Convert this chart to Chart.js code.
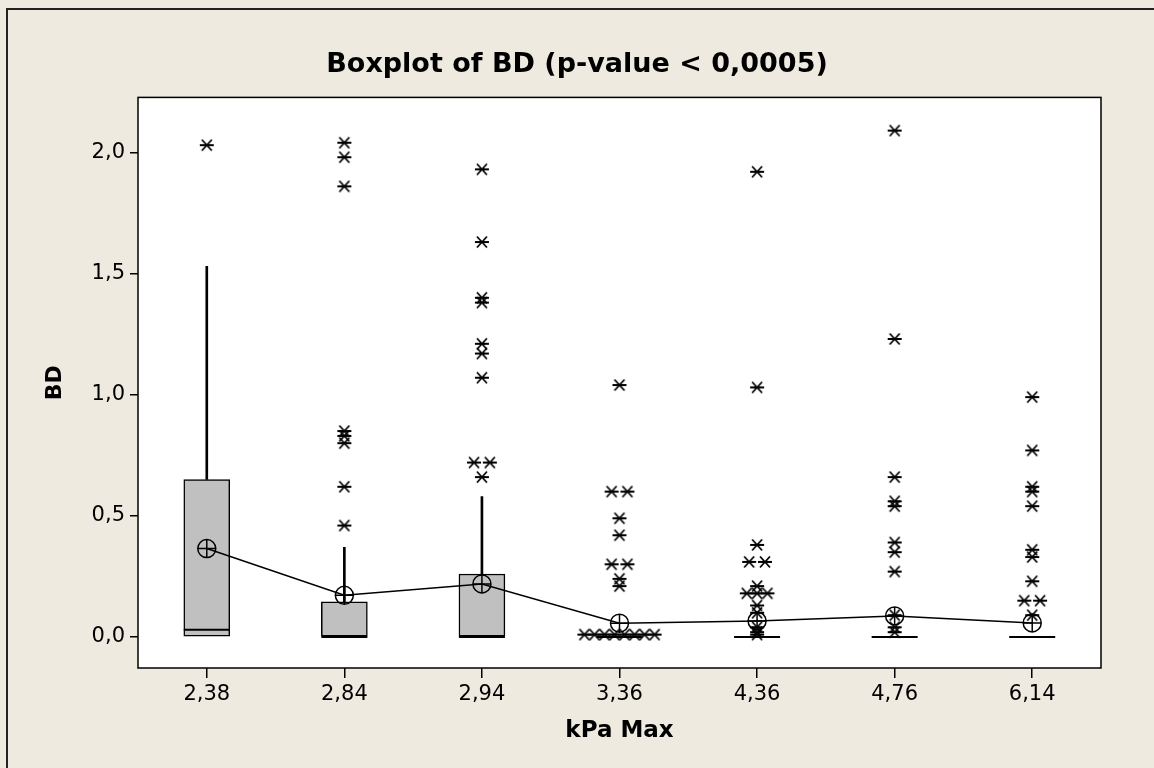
<!DOCTYPE html>
<html>
<head>
<meta charset="utf-8">
<script src="https://cdn.jsdelivr.net/npm/chart.js@4.4.0/dist/chart.umd.min.js"></script>
<style>
  body { margin: 0; background: #EEEAE0; }
  #wrap { width: 1154px; height: 768px; }
</style>
</head>
<body>
<div id="wrap"><canvas id="myChart" width="1154" height="768"></canvas></div>
<script>
// kPa Max groups
var categories = ['2,38', '2,84', '2,94', '3,36', '4,36', '4,76', '6,14'];
var q1 = [0, 0, 0, 0, 0, 0, 0];
var median = [0.03, 0, 0, 0, 0, 0, 0];
var q3 = [0.65, 0.145, 0.26, 0, 0, 0, 0];
var whiskerHigh = [1.53, 0.37, 0.58, 0, 0, 0, 0];
var means = [0.365, 0.172, 0.219, 0.057, 0.066, 0.087, 0.058];
var outliers = [
    [2.03],
    [2.04, 1.98, 1.86, 0.85, 0.83, 0.80, 0.62, 0.46],
    [1.93, 1.63, 1.40, 1.38, 1.21, 1.17, 1.07, 0.72, 0.72, 0.66],
    [1.04, 0.60, 0.60, 0.49, 0.42, 0.30, 0.30, 0.24, 0.21, 0.01, 0.01, 0.01, 0.01, 0.01, 0.01, 0.01, 0.01],
    [1.92, 1.03, 0.38, 0.31, 0.31, 0.21, 0.18, 0.18, 0.18, 0.13, 0.10, 0.04, 0.02, 0.01],
    [2.09, 1.23, 0.66, 0.56, 0.54, 0.39, 0.35, 0.27, 0.09, 0.04, 0.02],
    [0.99, 0.77, 0.62, 0.60, 0.54, 0.36, 0.33, 0.23, 0.15, 0.15, 0.09]
];
var yTicks = [0, 0.5, 1.0, 1.5, 2.0];

// identical values are set side by side, like minitab does
function spread(vals, idx) {
    var counts = {};
    vals.forEach(function (v) { counts[v] = (counts[v] || 0) + 1; });
    var pts = [];
    Object.keys(counts).forEach(function (k) {
        var n = counts[k];
        var gap = n === 2 ? 0.115 : Math.min(0.075, 0.51 / Math.max(n - 1, 1));
        for (var j = 0; j < n; j++) {
            pts.push({x: idx + (j - (n - 1) / 2) * gap, y: parseFloat(k)});
        }
    });
    return pts;
}
var outlierPts = [];
outliers.forEach(function (g, i) { outlierPts = outlierPts.concat(spread(g, i)); });

// asterisk symbol
function makeStar() {
    var c = document.createElement('canvas');
    c.width = 16; c.height = 16;
    var g = c.getContext('2d');
    g.strokeStyle = '#000';
    g.lineWidth = 1.8;
    g.beginPath();
    g.moveTo(1, 8); g.lineTo(15, 8);
    g.moveTo(3, 2.5); g.lineTo(13, 13.5);
    g.moveTo(3, 13.5); g.lineTo(13, 2.5);
    g.stroke();
    return c;
}

var frame = {
    id: 'frame',
    beforeDraw: function (chart) {
        var c = chart.ctx, a = chart.chartArea;
        c.save();
        c.fillStyle = '#EEEAE0';
        c.fillRect(0, 0, chart.width, chart.height);
        c.strokeStyle = '#222';
        c.lineWidth = 2;
        c.beginPath();
        c.moveTo(7, chart.height); c.lineTo(7, 9); c.lineTo(chart.width, 9);
        c.stroke();
        c.fillStyle = '#fff';
        c.fillRect(a.left, a.top, a.right - a.left, a.bottom - a.top);
        c.restore();
    },
    afterDraw: function (chart) {
        var c = chart.ctx, a = chart.chartArea;
        c.save();
        c.strokeStyle = '#000';
        c.lineWidth = 1.5;
        c.strokeRect(a.left, a.top, a.right - a.left, a.bottom - a.top);
        c.restore();
    }
};

var ctx = document.getElementById('myChart');
var boxChart = new Chart(ctx, {
    type: 'bar',
    data: {
        labels: categories,
        datasets: [
            {
                type: 'bar',
                data: q1.map(function (v, i) { return [v, q3[i]]; }),
                backgroundColor: '#C0C0C0',
                borderColor: '#000',
                borderWidth: 1.5,
                borderSkipped: false,
                barThickness: 46,
                grouped: false,
                order: 5
            },
            {
                type: 'bar',
                data: q3.map(function (v, i) { return [v, whiskerHigh[i]]; }),
                backgroundColor: '#000',
                borderWidth: 0,
                barThickness: 2,
                grouped: false,
                order: 4
            },
            {
                type: 'scatter',
                xAxisID: 'x2',
                data: median.map(function (v, i) { return {x: i, y: v}; }),
                pointStyle: 'line',
                pointRadius: 23,
                borderColor: '#000',
                pointBorderWidth: 2,
                order: 3
            },
            {
                type: 'scatter',
                xAxisID: 'x2',
                data: outlierPts,
                pointStyle: makeStar(),
                order: 2
            },
            {
                type: 'line',
                xAxisID: 'x2',
                data: means.map(function (v, i) { return {x: i, y: v}; }),
                borderColor: '#000',
                borderWidth: 1.5,
                pointStyle: 'circle',
                pointRadius: 9,
                pointBackgroundColor: 'rgba(0,0,0,0)',
                pointBorderColor: '#000',
                pointBorderWidth: 1.5,
                order: 1
            },
            {
                type: 'scatter',
                xAxisID: 'x2',
                data: means.map(function (v, i) { return {x: i, y: v}; }),
                pointStyle: 'cross',
                pointRadius: 9,
                borderColor: '#000',
                pointBorderWidth: 1.5,
                order: 0
            }
        ]
    },
    options: {
        responsive: false,
        animation: false,
        devicePixelRatio: 1,
        layout: {padding: 0},
        plugins: {
            legend: {display: false},
            tooltip: {enabled: false},
            title: {
                display: true,
                text: 'Boxplot of BD (p-value < 0,0005)',
                color: '#000',
                font: {family: 'DejaVu Sans', size: 27, weight: 'bold', lineHeight: 1.2},
                padding: {top: 49, bottom: 16}
            }
        },
        scales: {
            x: {
                type: 'category',
                offset: true,
                grid: {offset: false, drawOnChartArea: false, color: '#000', lineWidth: 1.5, tickLength: 10},
                border: {display: false},
                ticks: {color: '#000', padding: 4, font: {family: 'DejaVu Sans', size: 21}},
                title: {
                    display: true, text: 'kPa Max', color: '#000',
                    font: {family: 'DejaVu Sans', size: 23, weight: 'bold', lineHeight: 1.2},
                    padding: {bottom: 23}
                },
                afterFit: function (s) { s.height = 100; }
            },
            x2: {type: 'linear', min: -0.5, max: 6.5, offset: false, display: false},
            y: {
                min: -0.128,
                max: 2.227,
                grid: {drawOnChartArea: false, color: '#000', lineWidth: 1.5, tickLength: 8},
                border: {display: false},
                afterBuildTicks: function (s) { s.ticks = yTicks.map(function (v) { return {value: v}; }); },
                ticks: {
                    color: '#000', padding: 5, font: {family: 'DejaVu Sans', size: 21},
                    callback: function (v) { return v.toFixed(1).replace('.', ','); }
                },
                title: {
                    display: true, text: 'BD', color: '#000',
                    font: {family: 'DejaVu Sans', size: 22, weight: 'bold', lineHeight: 1.2},
                    padding: {top: 42}
                },
                afterFit: function (s) { s.width = 138; }
            },
            // empty right margin so the title centres over the whole page
            yRight: {
                position: 'right',
                display: true,
                grid: {display: false},
                border: {display: false},
                ticks: {display: false},
                afterFit: function (s) { s.width = 53; }
            }
        }
    },
    plugins: [frame]
});
</script>
</body>
</html>
